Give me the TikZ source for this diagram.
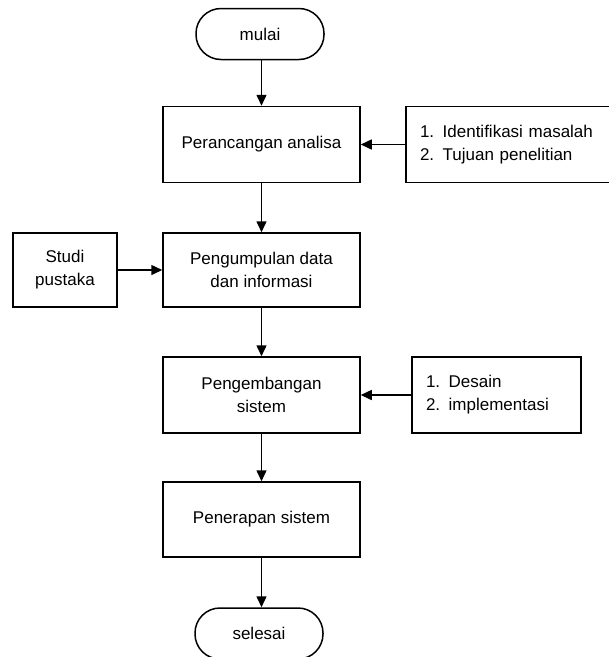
\documentclass[tikz,border=0pt]{standalone}
\usepackage{fontspec}
\setmainfont{Liberation Sans}
\usepackage{tikz}
\usetikzlibrary{positioning, arrows.meta}

\tikzset{
  proses/.style={draw=black, line width=1.5pt, fill=white, minimum width=197pt, minimum height=76pt, align=center, inner sep=0pt},
  ujung/.style={draw=black, line width=1.5pt, rounded corners=25pt, minimum width=128pt, minimum height=51pt, inner sep=0pt},
  daftar/.style={draw=black, line width=1.5pt, minimum height=76pt, align=left, inner xsep=14pt, inner ysep=0pt},
  panah/.style={line width=1.5pt, -{Triangle[length=11pt,width=10pt]}}
}

\begin{document}
\begin{tikzpicture}[x=1pt, y=-1pt, font=\fontsize{17}{23}\selectfont]
            \useasboundingbox (0,0) rectangle (609,657);   % picture frame
            \node [ujung] (mulai) at (260,34) {mulai};     % start
            \node [proses] (analisa) at (261.5,144.5) {Perancangan analisa};
            \node [daftar, text width=177pt] (tujuan) at (508.5,144.5) {1.\enspace Identifikasi masalah\\2.\enspace Tujuan penelitian};
            \node [proses, minimum height=74pt] (data) at (261.5,270) {Pengumpulan data\\dan informasi};
            \node [proses, minimum width=104pt, minimum height=74pt] (pustaka) at (65,270) {Studi\\pustaka};
            \node [proses] (sistem) at (261.5,395) {Pengembangan\\sistem};
            \node [daftar, text width=141pt] (desain) at (496.5,395) {1.\enspace Desain\\2.\enspace implementasi};
            \node [proses, minimum height=75pt] (terap) at (261.5,519.5) {Penerapan sistem};
            \node [ujung] (selesai) at (259,633.5) {selesai};  % end
            \draw [panah] (analisa |- mulai.south) -- (analisa); % main flow
            \draw [panah] (analisa) -- (data);
            \draw [panah] (data) -- (sistem);
            \draw [panah] (sistem) -- (terap);
            \draw [panah] (terap) -- (terap |- selesai.north);
            \draw [panah] (tujuan) -- (analisa);          % side inputs
            \draw [panah] (pustaka) -- (data);
            \draw [panah] (desain) -- (sistem);
\end{tikzpicture}
\end{document}
